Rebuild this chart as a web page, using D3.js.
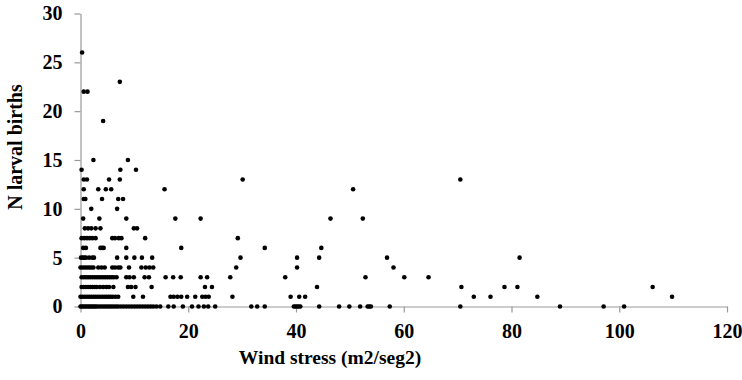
<!DOCTYPE html>
<html>
<head>
<meta charset="utf-8">
<script src="https://cdn.jsdelivr.net/npm/d3@7"></script>
<style>
  body { margin: 0; background: #fff; }
  svg text { font-family: "Liberation Serif", "Times New Roman", serif; font-weight: bold; fill: #000; }
</style>
</head>
<body>
<div id="chart"></div>
<script>
// wind stress readings grouped by the number of larval births observed
const birthLevels = [0, 1, 2, 3, 4, 5, 6, 7, 8, 9, 10, 11, 12, 13, 14, 15, 19, 22, 23, 26];
const windStress = [
  [0, 0.3, 0.6, 0.9, 1.2, 1.5, 1.8, 2.1, 2.4, 2.7, 3.0, 3.4, 3.8, 4.2, 4.6, 5.0, 5.4, 5.8, 6.2, 6.6, 7.0, 7.5, 8.0, 8.5,
   9.0, 9.5, 10.0, 10.5, 11.0, 11.5, 12.0, 12.5, 13.0, 13.5, 14.1, 14.8, 16.3, 17.3, 19.0, 20.7, 21.9, 22.9, 23.7, 25.0,
   31.7, 32.8, 34.2, 39.6, 39.9, 40.2, 40.5, 40.8, 44.3, 48.0, 49.9, 51.9, 53.3, 53.6, 53.9, 57.4, 70.5, 89.0, 97.1, 100.9],
  [0, 0.4, 0.8, 1.2, 1.6, 2.0, 2.4, 2.8, 3.2, 3.6, 4.0, 4.4, 4.8, 5.2, 5.6, 6.0, 6.5, 7.0, 9.8, 11.6,
   16.7, 17.3, 18.0, 18.7, 19.8, 21.3, 22.6, 23.2, 23.8, 28.2, 39.0, 40.6, 41.7, 73.0, 76.1, 84.8, 109.8],
  [0.2, 0.6, 1.0, 1.4, 1.8, 2.2, 2.6, 3.0, 3.6, 4.2, 4.8, 5.3, 6.1, 8.8, 9.4, 10.2, 13.2, 23.1, 24.4, 43.9, 70.7, 78.7, 81.1, 106.2],
  [0.2, 0.6, 1.0, 1.4, 1.8, 2.2, 2.6, 3.0, 3.4, 3.8, 4.2, 4.6, 5.0, 5.4, 5.8, 6.2, 6.7, 8.5, 9.1, 9.9, 11.9, 12.7,
   15.8, 17.2, 18.6, 22.3, 23.5, 27.8, 38.0, 52.9, 60.1, 64.6],
  [0, 0.4, 0.8, 1.2, 1.6, 2.0, 2.4, 3.3, 3.9, 4.5, 5.9, 6.4, 7.0, 7.4, 9.0, 11.3, 12.1, 12.8, 13.5, 28.9, 40.2, 58.1],
  [0.1, 0.4, 0.7, 1.0, 1.6, 2.2, 2.5, 6.8, 8.5, 10.0, 11.4, 13.3, 29.7, 40.2, 44.3, 56.9, 81.5],
  [0.5, 1.0, 3.7, 4.0, 4.3, 8.5, 18.7, 34.2, 44.7],
  [0.2, 0.7, 1.2, 1.7, 2.2, 2.8, 5.9, 6.4, 7.1, 7.6, 12.0, 29.2],
  [0.8, 1.4, 2.0, 2.8, 3.7, 9.9, 10.5],
  [0.5, 3.5, 8.5, 17.6, 22.3, 46.4, 52.4],
  [2.0, 6.8],
  [0.6, 0.9, 4.0, 7.0, 7.9],
  [0.6, 3.3, 4.7, 5.7, 15.6, 50.6],
  [0.6, 1.2, 5.3, 7.3, 30.1, 70.5],
  [0.2, 7.4, 10.3],
  [2.4, 8.8],
  [4.2],
  [0.6, 1.3],
  [7.3],
  [0.3]
];
const xTicks = [0, 20, 40, 60, 80, 100, 120];
const yTicks = [0, 5, 10, 15, 20, 25, 30];

const points = [];
birthLevels.forEach((n, i) => windStress[i].forEach(w => points.push({ wind: w, births: n })));

const width = 742, height = 380;
const margin = { top: 13.5, right: 15, bottom: 73.5, left: 80.5 };

const svg = d3.select("#chart").append("svg")
  .attr("width", width)
  .attr("height", height);

const x = d3.scaleLinear().domain([0, 120]).range([margin.left, width - margin.right]);
const y = d3.scaleLinear().domain([0, 30]).range([height - margin.bottom, margin.top]);

// x axis
const gx = svg.append("g")
  .attr("transform", `translate(0,${height - margin.bottom})`)
  .call(d3.axisBottom(x).tickValues(xTicks).tickSize(6).tickSizeOuter(0).tickPadding(11));
gx.selectAll("text").style("font-size", "20px");

// y axis
const gy = svg.append("g")
  .attr("transform", `translate(${margin.left},0)`)
  .call(d3.axisLeft(y).tickValues(yTicks).tickSize(6).tickSizeOuter(0).tickPadding(12));
gy.selectAll("text").style("font-size", "20px");

svg.selectAll(".domain, .tick line").attr("stroke", "#999").attr("stroke-width", 1.2);

// dots
svg.append("g").selectAll("circle")
  .data(points)
  .enter()
  .append("circle")
  .attr("cx", d => x(d.wind))
  .attr("cy", d => y(d.births))
  .attr("r", 2.3)
  .attr("fill", "#000");

// axis titles
svg.append("text")
  .attr("x", 330)
  .attr("y", 364)
  .attr("text-anchor", "middle")
  .style("font-size", "19.5px")
  .text("Wind stress (m2/seg2)");

svg.append("text")
  .attr("transform", "translate(22,147) rotate(-90)")
  .attr("text-anchor", "middle")
  .style("font-size", "20px")
  .text("N larval births");
</script>
</body>
</html>
